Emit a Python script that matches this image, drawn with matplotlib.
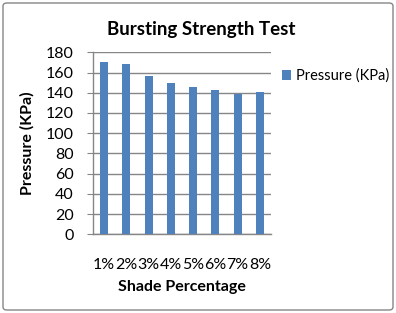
import numpy as np
import matplotlib.pyplot as plt
from matplotlib.patches import FancyBboxPatch

categories = ['1%', '2%', '3%', '4%', '5%', '6%', '7%', '8%']
pressure = [170, 168, 157, 150, 146, 143, 139, 141]
series_name = 'Pressure (KPa)'

plt.rcParams['font.family'] = ['Lato', 'DejaVu Sans']

fig = plt.figure(figsize=(3.96, 3.13), dpi=100)
ax = fig.add_axes([93 / 396, 1 - 234.3 / 313, 178 / 396, 182 / 313])

x = np.arange(len(categories))
ax.bar(x, pressure, width=0.36, color='#4f81bd', label=series_name, zorder=3)

ax.set_xlim(-0.5, len(categories) - 0.5)
ax.set_ylim(0, 180)
ax.set_yticks(np.arange(0, 181, 20))
ax.set_xticks(x)
ax.set_xticklabels(categories)
ax.tick_params(axis='y', length=4, color='#868686', labelsize=11.5, pad=10)
ax.tick_params(axis='x', length=0, labelsize=11.5, pad=17)

ax.grid(axis='y', color='#868686', linewidth=1, zorder=0)
for side in ['top', 'right']:
    ax.spines[side].set_visible(False)
for side in ['left', 'bottom']:
    ax.spines[side].set_color('#868686')
    ax.spines[side].set_linewidth(1)

fig.text(201 / 396, 1 - 29 / 313, 'Bursting Strength Test', fontsize=13.5,
         fontweight='bold', ha='center', va='center')
ax.set_xlabel('Shade Percentage', fontsize=11.5, fontweight='bold', labelpad=6)
ax.set_ylabel('Pressure (KPa)', fontsize=11.5, fontweight='bold', labelpad=8)

leg = fig.legend(loc='upper left', bbox_to_anchor=(276 / 396, 1 - 63 / 313),
                 frameon=False, fontsize=10.5, handlelength=0.6, handleheight=0.6,
                 handletextpad=0.4, borderaxespad=0)

border = FancyBboxPatch((3 / 396, 3 / 313), 390 / 396, 307 / 313,
                        boxstyle='round,pad=0,rounding_size=0.01',
                        transform=fig.transFigure, fill=False,
                        edgecolor='#868686', linewidth=1)
fig.patches.append(border)

fig.savefig('out.png', dpi=100)
